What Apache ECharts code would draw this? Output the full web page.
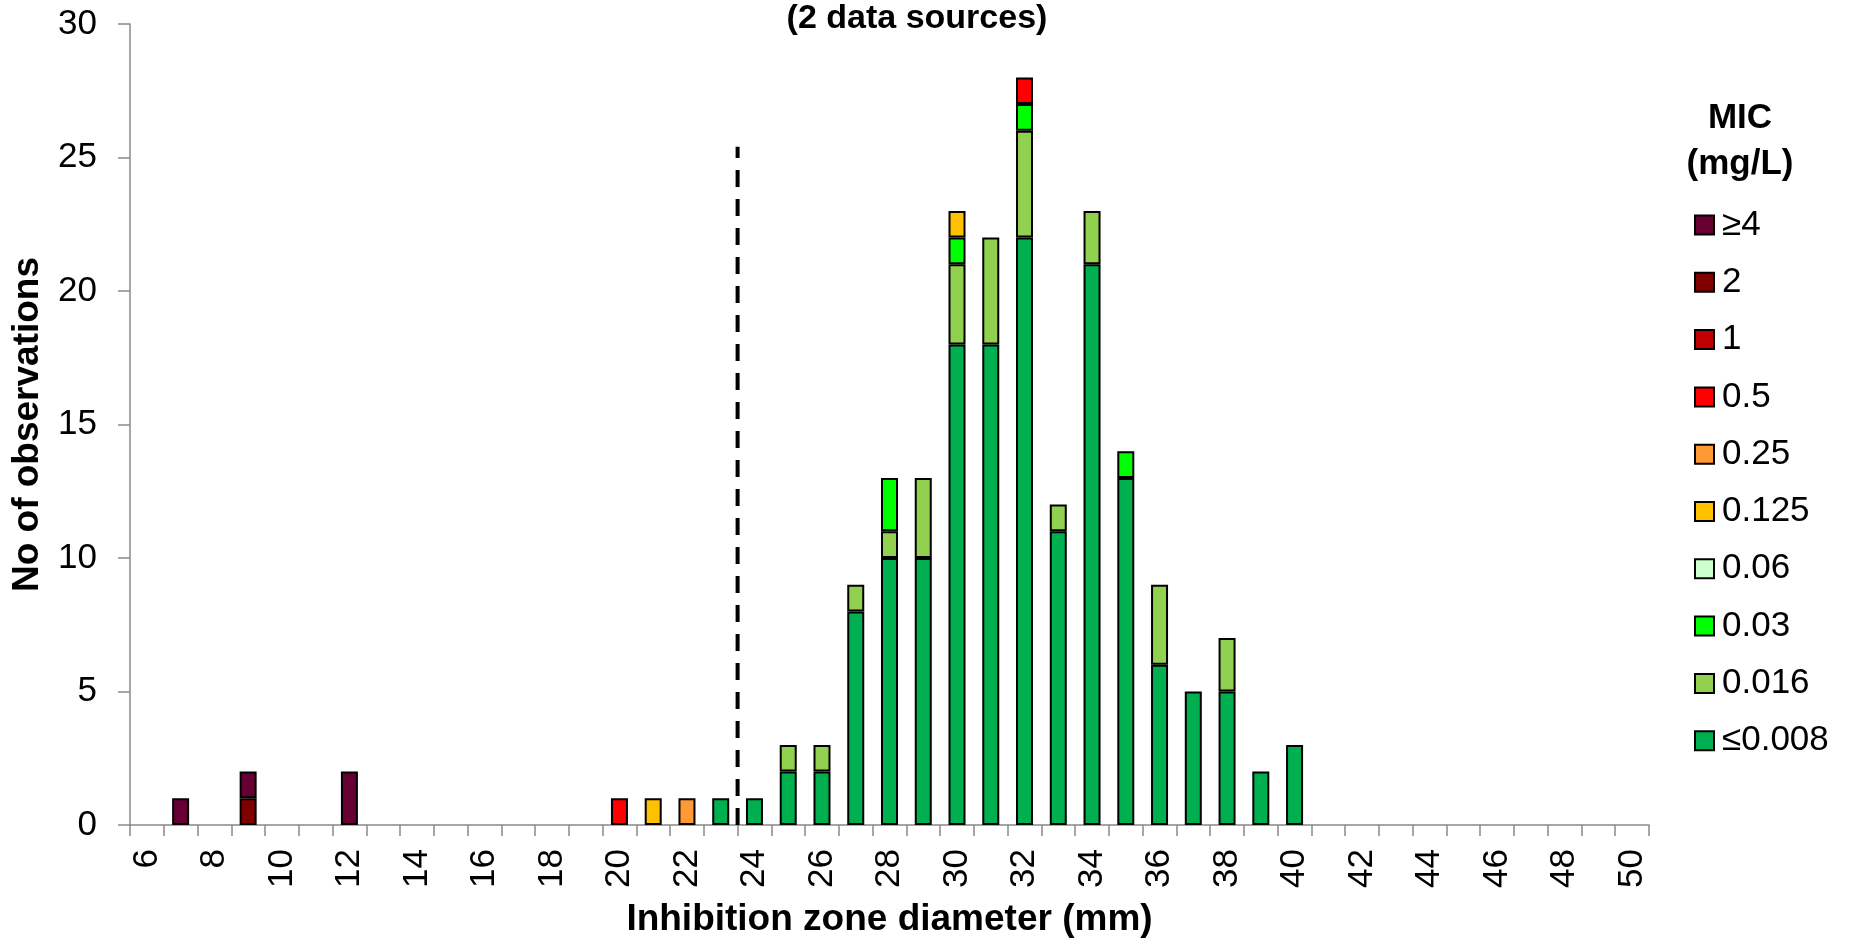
<!DOCTYPE html>
<html>
<head>
<meta charset="utf-8">
<script src="https://cdn.jsdelivr.net/npm/echarts@6/dist/echarts.min.js"></script>
<style>
html,body{margin:0;padding:0;background:#fff;}
#chart{width:1850px;height:943px;}
</style>
</head>
<body>
<div id="chart"></div>
<script>
// Inhibition zone diameters (mm), categories 6..50
const categories = ['6','7','8','9','10','11','12','13','14','15','16','17','18','19','20','21','22','23','24','25','26','27','28','29','30','31','32','33','34','35','36','37','38','39','40','41','42','43','44','45','46','47','48','49','50'];

// MIC classes (legend order, top to bottom)
const micLabels = ['≥4','2','1','0.5','0.25','0.125','0.06','0.03','0.016','≤0.008'];
const micColors = ['#660033','#800000','#C00000','#FF0000','#FF9933','#FFC000','#CCFFCC','#00FF00','#92D050','#00B050'];

// counts per category (6-10 | 11-15 | 16-20 | 21-25 | 26-30 | 31-35 | 36-40 | 41-45 | 46-50)
const mic_ge4   = [0,1,0,1,0, 0,2,0,0,0, 0,0,0,0,0, 0,0,0,0,0, 0,0,0,0,0, 0,0,0,0,0, 0,0,0,0,0, 0,0,0,0,0, 0,0,0,0,0];
const mic_2     = [0,0,0,1,0, 0,0,0,0,0, 0,0,0,0,0, 0,0,0,0,0, 0,0,0,0,0, 0,0,0,0,0, 0,0,0,0,0, 0,0,0,0,0, 0,0,0,0,0];
const mic_1     = [0,0,0,0,0, 0,0,0,0,0, 0,0,0,0,0, 0,0,0,0,0, 0,0,0,0,0, 0,0,0,0,0, 0,0,0,0,0, 0,0,0,0,0, 0,0,0,0,0];
const mic_05    = [0,0,0,0,0, 0,0,0,0,0, 0,0,0,0,1, 0,0,0,0,0, 0,0,0,0,0, 0,1,0,0,0, 0,0,0,0,0, 0,0,0,0,0, 0,0,0,0,0];
const mic_025   = [0,0,0,0,0, 0,0,0,0,0, 0,0,0,0,0, 0,1,0,0,0, 0,0,0,0,0, 0,0,0,0,0, 0,0,0,0,0, 0,0,0,0,0, 0,0,0,0,0];
const mic_0125  = [0,0,0,0,0, 0,0,0,0,0, 0,0,0,0,0, 1,0,0,0,0, 0,0,0,0,1, 0,0,0,0,0, 0,0,0,0,0, 0,0,0,0,0, 0,0,0,0,0];
const mic_006   = [0,0,0,0,0, 0,0,0,0,0, 0,0,0,0,0, 0,0,0,0,0, 0,0,0,0,0, 0,0,0,0,0, 0,0,0,0,0, 0,0,0,0,0, 0,0,0,0,0];
const mic_003   = [0,0,0,0,0, 0,0,0,0,0, 0,0,0,0,0, 0,0,0,0,0, 0,0,2,0,1, 0,1,0,0,1, 0,0,0,0,0, 0,0,0,0,0, 0,0,0,0,0];
const mic_0016  = [0,0,0,0,0, 0,0,0,0,0, 0,0,0,0,0, 0,0,0,0,1, 1,1,1,3,3, 4,4,1,2,0, 3,0,2,0,0, 0,0,0,0,0, 0,0,0,0,0];
const mic_le0008= [0,0,0,0,0, 0,0,0,0,0, 0,0,0,0,0, 0,0,1,1,2, 2,8,10,10,18, 18,22,11,21,13, 6,5,5,2,3, 0,0,0,0,0, 0,0,0,0,0];

// breakpoint marker (dashed line between 23 and 24 mm)
const breakpointX = 23.5;
const breakpointTop = 25.4;

const yTicks = { min: 0, max: 30, interval: 5 };

const seriesValues = {
  '≥4': mic_ge4, '2': mic_2, '1': mic_1, '0.5': mic_05, '0.25': mic_025,
  '0.125': mic_0125, '0.06': mic_006, '0.03': mic_003, '0.016': mic_0016, '≤0.008': mic_le0008
};

const FONT = '"Liberation Sans", Arial, sans-serif';

// stacking from bottom (≤0.008) to top (≥4)
const stackOrder = micLabels.slice().reverse();
const barSeries = stackOrder.map(function (name) {
  const idx = micLabels.indexOf(name);
  return {
    name: name,
    type: 'bar',
    stack: 'mic',
    barWidth: 17,
    data: seriesValues[name].map(function (v) { return v === 0 ? null : v; }),
    itemStyle: { color: micColors[idx], borderColor: '#000', borderWidth: 2 },
    emphasis: { disabled: true }
  };
});

const chart = echarts.init(document.getElementById('chart'));
chart.setOption({
  animation: false,
  backgroundColor: '#fff',
  textStyle: { fontFamily: FONT },
  grid: { left: 130, right: 201, top: 24, bottom: 114, containLabel: false },
  graphic: [
    { type: 'text', x: 917, y: 2, style: { text: '(2 data sources)', fontFamily: FONT, fontSize: 34, fontWeight: 'bold', fill: '#000', textAlign: 'center', textVerticalAlign: 'top' } },
    { type: 'text', x: 1740, y: 95, style: { text: 'MIC\n(mg/L)', fontFamily: FONT, fontSize: 35, fontWeight: 'bold', fill: '#000', textAlign: 'center', textVerticalAlign: 'top', lineHeight: 46 } }
  ],
  legend: {
    data: micLabels,
    orient: 'vertical',
    left: 1694,
    top: 205,
    padding: 0,
    itemWidth: 19,
    itemHeight: 19,
    itemGap: 17.3,
    icon: 'rect',
    selectedMode: false,
    textStyle: { fontFamily: FONT, fontSize: 35, color: '#000', lineHeight: 40, padding: [0, 0, 0, 3] }
  },
  xAxis: [
    {
      type: 'category',
      data: categories,
      name: 'Inhibition zone diameter (mm)',
      nameLocation: 'middle',
      nameGap: 76,
      nameTextStyle: { fontFamily: FONT, fontSize: 37, fontWeight: 'bold', color: '#000' },
      axisLine: { lineStyle: { color: '#898989', width: 1.5 } },
      axisTick: { show: true, interval: 0, length: 11, lineStyle: { color: '#898989', width: 1.5 } },
      axisLabel: { interval: 1, rotate: 90, margin: 24, fontFamily: FONT, fontSize: 35, color: '#000' },
      splitLine: { show: false }
    },
    {
      type: 'value', min: 5.5, max: 50.5, show: false
    }
  ],
  yAxis: {
    type: 'value',
    min: yTicks.min, max: yTicks.max, interval: yTicks.interval,
    name: 'No of observations',
    nameLocation: 'middle',
    nameGap: 84,
    nameTextStyle: { fontFamily: FONT, fontSize: 37, fontWeight: 'bold', color: '#000' },
    axisLine: { show: true, lineStyle: { color: '#898989', width: 1.5 } },
    axisTick: { show: true, length: 12, lineStyle: { color: '#898989', width: 1.5 } },
    axisLabel: { margin: 33, fontFamily: FONT, fontSize: 35, color: '#000' },
    splitLine: { show: false }
  },
  series: barSeries.concat([
    {
      name: 'breakpoint',
      type: 'line',
      xAxisIndex: 1,
      yAxisIndex: 0,
      data: [[breakpointX, 0], [breakpointX, breakpointTop]],
      symbol: 'none',
      lineStyle: { color: '#000', width: 4, type: [17, 12] },
      z: 5,
      silent: true
    }
  ])
});
</script>
</body>
</html>
